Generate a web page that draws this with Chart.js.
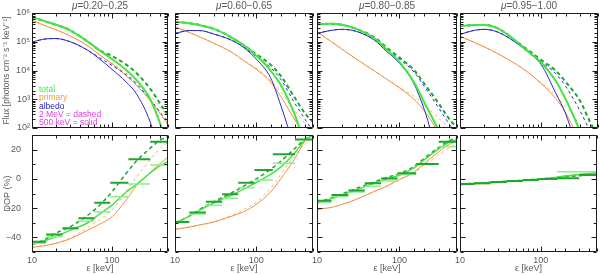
<!DOCTYPE html>
<html>
<head>
<meta charset="utf-8">
<script src="https://cdn.jsdelivr.net/npm/chart.js@4.4.1/dist/chart.umd.min.js"></script>
<style>
  html, body { margin: 0; padding: 0; background: #fff; overflow: hidden; }
  #wrap { position: relative; width: 600px; height: 275px; }
  #wrap canvas { position: absolute; left: 0; top: 0; }
</style>
</head>
<body>
<div id="wrap"></div>
<script>
// ── Data ─────────────────────────────────────────────────────────
const energy = [10, 15, 20, 30, 50, 70, 100, 150, 200, 300, 400, 500];
const muRanges = ['0.20−0.25', '0.60−0.65', '0.80−0.85', '0.95−1.00'];

// flux per panel (photons cm^-2 s^-1 keV^-1), one row per mu bin
const fluxTotal500 = [
  [7.2e5, 5.0e5, 3.9e5, 2.5e5, 1.0e5, 5.0e4, 2.5e4, 1.05e4, 4.8e3, 1.0e3, 1.4e2, 20],
  [5.0e5, 4.4e5, 3.8e5, 2.8e5, 1.4e5, 7.6e4, 3.3e4, 1.0e4, 3.2e3, 2.8e2, 25, 6],
  [4.1e5, 4.2e5, 3.9e5, 2.8e5, 1.3e5, 5.4e4, 2.0e4, 4.0e3, 7.9e2, 79, 10, 3],
  [3.5e5, 3.8e5, 3.8e5, 2.8e5, 1.0e5, 4.5e4, 1.9e4, 4.5e3, 1.0e3, 79, 10, 2]
];
const fluxTotal2M = [
  [7.2e5, 5.0e5, 3.9e5, 2.5e5, 1.0e5, 5.0e4, 3.2e4, 1.6e4, 8.3e3, 2.3e3, 6.9e2, 2.8e2],
  [5.0e5, 4.4e5, 3.8e5, 2.8e5, 1.4e5, 7.6e4, 3.7e4, 1.6e4, 6.6e3, 1.1e3, 3.2e2, 1.6e2],
  [4.1e5, 4.2e5, 3.9e5, 2.8e5, 1.4e5, 6.3e4, 2.8e4, 1.05e4, 3.5e3, 7.1e2, 2.1e2, 1.0e2],
  [3.5e5, 3.8e5, 3.8e5, 2.8e5, 1.0e5, 5.0e4, 2.3e4, 1.0e4, 4.0e3, 8.9e2, 1.6e2, 50]
];
const fluxPrimary500 = [
  [5.6e5, 3.5e5, 2.6e5, 1.6e5, 7.1e4, 3.5e4, 1.7e4, 6.6e3, 3.2e3, 8.9e2, 3.2e2, 1.3e2],
  [3.3e5, 2.1e5, 1.5e5, 8.9e4, 4.3e4, 2.2e4, 1.1e4, 4.0e3, 1.26e3, 1.9e2, 50, 16],
  [2.2e5, 1.0e5, 5.6e4, 2.5e4, 9.5e3, 5.0e3, 2.5e3, 1.0e3, 4.0e2, 63, 10, 3],
  [1.55e5, 9.5e4, 6.6e4, 3.7e4, 1.6e4, 8.3e3, 3.5e3, 1.07e3, 3.4e2, 32, 6, 2]
];
const fluxPrimary2M = [
  [5.6e5, 3.5e5, 2.6e5, 1.6e5, 7.1e4, 3.5e4, 1.8e4, 7.9e3, 4.0e3, 1.3e3, 5.2e2, 2.5e2],
  [3.3e5, 2.1e5, 1.5e5, 8.9e4, 4.3e4, 2.2e4, 1.2e4, 4.6e3, 1.8e3, 4.0e2, 1.4e2, 63],
  [2.2e5, 1.0e5, 5.6e4, 2.5e4, 9.5e3, 5.0e3, 2.6e3, 1.26e3, 6.3e2, 2.2e2, 1.0e2, 50],
  [1.55e5, 9.5e4, 6.6e4, 3.7e4, 1.6e4, 8.3e3, 3.7e3, 1.4e3, 5.6e2, 1.3e2, 40, 16]
];
const fluxAlbedo500 = [
  [9.8e4, 1.26e5, 1.29e5, 1.0e5, 5.0e4, 2.5e4, 1.1e4, 4.0e3, 1.6e3, 1.6e2, 10, 2],
  [1.95e5, 2.45e5, 2.45e5, 1.86e5, 1.12e5, 6.3e4, 2.5e4, 5.6e3, 6.3e2, 20, 3, 1],
  [1.95e5, 2.5e5, 2.7e5, 2.3e5, 1.12e5, 4.6e4, 1.8e4, 3.5e3, 4.5e2, 10, 2, 1],
  [1.8e5, 2.5e5, 2.7e5, 2.1e5, 8.9e4, 4.2e4, 1.6e4, 1.7e3, 3.1e2, 10, 2, 1]
];
const fluxAlbedo2M = [
  [9.8e4, 1.26e5, 1.29e5, 1.0e5, 5.0e4, 2.8e4, 1.5e4, 7.1e3, 3.5e3, 1.0e3, 3.5e2, 1.6e2],
  [1.95e5, 2.45e5, 2.45e5, 1.86e5, 1.12e5, 6.6e4, 3.0e4, 1.26e4, 5.0e3, 7.1e2, 2.0e2, 79],
  [1.95e5, 2.5e5, 2.7e5, 2.3e5, 1.17e5, 5.2e4, 2.5e4, 8.9e3, 2.8e3, 5.0e2, 1.4e2, 63],
  [1.8e5, 2.5e5, 2.7e5, 2.1e5, 8.9e4, 4.4e4, 2.0e4, 7.9e3, 2.8e3, 4.0e2, 79, 32]
];

// degree of polarisation (%)
const dopTotal500 = [
  [-45, -42, -39.5, -35, -30, -24, -18, -9, -4, 4, 9, 12],
  [-30.4, -25.5, -21.5, -16.5, -11, -7, -2.5, 3, 8, 18, 26.6, 30],
  [-16.7, -13.5, -11, -7.5, -2.8, 0, 2.5, 7.5, 13, 20.5, 25, 27],
  [-3.5, -3, -2.6, -2, -1.2, -0.6, 0, 1, 2, 3, 3.6, 4]
];
const dopTotal2M = [
  [-45, -41, -37, -32.7, -24.7, -18, -8.8, 3.8, 12, 21, 26.6, 29],
  [-30, -25.5, -21, -15.6, -9.5, -5, 0, 6.5, 12, 20.9, 27, 30],
  [-16, -13, -10.5, -6.5, -2, 1, 3.5, 8.5, 14, 21.5, 26, 28],
  [-3.5, -3, -2.6, -2, -1.2, -0.6, 0, 0.8, 1.5, 2.2, 2.6, 2.8]
];
const dopPrimary500 = [
  [-46.8, -45.5, -44, -41, -35, -31, -25.9, -14.4, -5, 4.5, 10.6, 15],
  [-34.5, -33, -31.5, -29.5, -25.5, -22.5, -17.5, -9, 0, 14, 26, 30],
  [-20.8, -19.5, -17.5, -14, -8.5, -5, -0.5, 4.5, 10.5, 18.5, 23.5, 26],
  [-4, -3.5, -3, -2.4, -1.5, -0.9, -0.2, 0.8, 1.8, 3, 3.8, 4.3]
];
const dopPrimary2M = [
  [-46.8, -45.5, -44, -40.5, -33, -28, -21.3, -8.8, 1, 13, 21, 25],
  [-34.5, -33, -31.5, -29.5, -25, -21, -16, -6.5, 3, 16, 24, 28],
  [-20.8, -19.5, -17.5, -14, -8.5, -5, -0.5, 4, 9.5, 16.5, 21, 24],
  [-4, -3.5, -3, -2.4, -1.5, -0.9, -0.2, 0.6, 1.4, 2.3, 3, 3.5]
];

// binned DOP (horizontal bars)
const binLo = [10, 15, 24, 38, 60, 95, 160, 300];
const binHi = [15, 24, 38, 60, 95, 160, 300, 500];
const binDop2M = [
  [-43, -38, -33.8, -27, -16.3, -2.6, 13.4, 25.4],
  [-29.5, -23, -15.6, -10.5, -2.6, 6.1, 16.8, 27],
  [-15, -11, -8, -3, 0.3, 3.8, 10.2, 25.4],
  [-3.5, -3, -2.2, -1.5, -0.8, 0, 0.4, 2.6]
];
const binDop500 = [
  [-44, -39.5, -34, -29, -22.4, -12.2, -3.5, 9.5],
  [-29.5, -24, -18, -13.3, -6, -0.8, 10.6, 27],
  [-16, -12, -9, -5, -1.5, 3, 10, 22],
  [-3.8, -3.2, -2.5, -1.8, -1, -0.3, 4.9, 4.9]
];

const legendLabels = ['total', 'primary', 'albedo', '2 MeV = dashed', '500 keV = solid'];
const legendColors = ['#44e844', '#f0a040', '#2424b8', '#e040e0', '#e040e0'];

// ── Layout ───────────────────────────────────────────────────────
const colLeft = [32, 175, 317, 460];
const colRight = [168, 313, 457, 598];
const rowTop = [13, 135];
const rowBottom = [128, 252];

const GREEN = '#44e444', DKGREEN = '#22a432', LTGREEN = '#8cee8c';
const ORANGE = '#f09040', LTORANGE = '#f6b47a', BLUE = '#2a2ac4';
const FONT = '"Liberation Sans", Arial, sans-serif';

Chart.defaults.font.family = FONT;
Chart.defaults.color = '#5a5a5a';

const SUP = { 2: '²', 3: '³', 4: '⁴', 5: '⁵', 6: '⁶' };
const isDecade = v => Math.abs(Math.log10(v) - Math.round(Math.log10(v))) < 1e-6;

const pts = vals => energy.map((e, i) => ({ x: e, y: vals[i] }));
const binPts = vals => vals.flatMap((v, i) => [{ x: binLo[i], y: v }, { x: binHi[i], y: v }, { x: binHi[i], y: null }]);

const curve = (data, color, width, dash, order) => ({
  data, borderColor: color, borderWidth: width, borderDash: dash || [],
  pointRadius: 0, fill: false, cubicInterpolationMode: 'monotone', order
});
const bars = (data, color, width, order) => ({
  data, borderColor: color, borderWidth: width, pointRadius: 0, fill: false, tension: 0, order
});

// frame with inward ticks on all four sides
const framePlugin = {
  id: 'frame',
  afterDatasetsDraw(chart) {
    const { ctx, chartArea: a, scales: { x, y } } = chart;
    const L = Math.round(a.left) + 0.5, R = Math.round(a.right) - 0.5;
    const T = Math.round(a.top) + 0.5, B = Math.round(a.bottom) - 0.5;
    ctx.save();
    ctx.strokeStyle = '#1c1c1c';
    ctx.lineWidth = 1;
    ctx.beginPath();
    ctx.rect(L, T, R - L, B - T);
    x.ticks.forEach(t => {
      const p = Math.round(x.getPixelForValue(t.value)) + 0.5;
      const len = isDecade(t.value) ? 5 : 3;
      ctx.moveTo(p, B); ctx.lineTo(p, B - len);
      ctx.moveTo(p, T); ctx.lineTo(p, T + len);
    });
    const logY = y.type === 'logarithmic';
    y.ticks.forEach(t => {
      const p = Math.round(y.getPixelForValue(t.value)) + 0.5;
      const major = logY ? isDecade(t.value) : t.value % 20 === 0;
      const len = major ? 5 : 3;
      ctx.moveTo(L, p); ctx.lineTo(L + len, p);
      ctx.moveTo(R, p); ctx.lineTo(R - len, p);
    });
    ctx.stroke();
    ctx.restore();
  }
};

// panel title (mu range) and the in-panel legend
const textPlugin = {
  id: 'panelText',
  afterDraw(chart, args, opts) {
    const { ctx, chartArea: a } = chart;
    ctx.save();
    ctx.textBaseline = 'middle';
    if (opts.mu) {
      const rest = '=' + opts.mu;
      ctx.font = 'italic 10px ' + FONT;
      const w1 = ctx.measureText('μ').width;
      ctx.font = '10px ' + FONT;
      const w2 = ctx.measureText(rest).width;
      const x0 = (a.left + a.right) / 2 - (w1 + w2) / 2;
      ctx.fillStyle = '#5a5a5a';
      ctx.textAlign = 'left';
      ctx.font = 'italic 10px ' + FONT;
      ctx.fillText('μ', x0, a.top - 7);
      ctx.font = '10px ' + FONT;
      ctx.fillText(rest, x0 + w1, a.top - 7);
    }
    if (opts.legend) {
      ctx.font = '8.5px ' + FONT;
      ctx.textAlign = 'left';
      legendLabels.forEach((s, i) => {
        ctx.fillStyle = legendColors[i];
        ctx.fillText(s, a.left + 7, 90 + i * 8.1);
      });
    }
    ctx.restore();
  }
};

const wrap = document.getElementById('wrap');

const makePanel = (col, row, datasets, yScale, extra) => {
  const cv = document.createElement('canvas');
  cv.width = 600; cv.height = 275;
  wrap.appendChild(cv);
  const first = col === 0;
  const lower = row === 1;
  yScale.afterFit = s => { s.width = first ? colLeft[0] : 0; };
  new Chart(cv, {
    type: 'line',
    data: { datasets },
    options: {
      responsive: false, animation: false, devicePixelRatio: 1, events: [],
      layout: { padding: {
        left: first ? 0 : colLeft[col], right: 600 - colRight[col],
        top: rowTop[row], bottom: lower ? 0 : 275 - rowBottom[row]
      } },
      scales: {
        x: {
          type: 'logarithmic', min: 10, max: 500,
          grid: { display: false, drawTicks: false }, border: { display: false },
          ticks: { display: lower, autoSkip: false, maxRotation: 0, padding: 3, font: { size: 9 },
            callback: v => (v === 10 || v === 100) ? String(v) : '' },
          title: { display: lower, text: 'ε [keV]', font: { size: 9 }, padding: { top: 0, bottom: 1 } },
          afterFit: s => { s.height = lower ? 275 - rowBottom[1] : 0; }
        },
        y: yScale
      },
      plugins: { legend: { display: false }, tooltip: { enabled: false }, panelText: extra }
    },
    plugins: [framePlugin, textPlugin]
  });
};

for (let c = 0; c < 4; c++) {
  const first = c === 0;
  makePanel(c, 0, [
    curve(pts(fluxTotal500[c]), GREEN, 2, null, 1),
    curve(pts(fluxTotal2M[c]), DKGREEN, 2, [4, 3], 2),
    curve(pts(fluxAlbedo500[c]), BLUE, 1, null, 3),
    curve(pts(fluxAlbedo2M[c]), BLUE, 1, [3, 3], 4),
    curve(pts(fluxPrimary500[c]), ORANGE, 1, null, 5),
    curve(pts(fluxPrimary2M[c]), LTORANGE, 1, [3, 3], 6)
  ], {
    type: 'logarithmic', min: 100, max: 1e6,
    grid: { display: false, drawTicks: false }, border: { display: false },
    ticks: { display: first, autoSkip: false, padding: 2, font: { size: 9 },
      callback: v => isDecade(v) ? '10' + SUP[Math.round(Math.log10(v))] : '' },
    title: { display: first, text: 'Flux [photons cm⁻² s⁻¹ keV⁻¹]', font: { size: 8.5 }, padding: { top: 2, bottom: 0 } }
  }, { mu: muRanges[c], legend: first });

  makePanel(c, 1, [
    bars(binPts(binDop500[c]), LTGREEN, 1.5, 2),
    bars(binPts(binDop2M[c]), DKGREEN, 2, 1),
    curve(pts(dopTotal500[c]), GREEN, 1.5, null, 3),
    curve(pts(dopTotal2M[c]), DKGREEN, 1.5, [4, 3], 4),
    curve(pts(dopPrimary500[c]), ORANGE, 1, null, 5),
    curve(pts(dopPrimary2M[c]), LTORANGE, 1, [3, 3], 6)
  ], {
    type: 'linear', min: -50, max: 30,
    grid: { display: false, drawTicks: false }, border: { display: false },
    ticks: { display: first, stepSize: 10, autoSkip: false, padding: 11, font: { size: 9 },
      callback: v => (v % 20 === 0 && v > -50 && v < 30) ? String(v).replace('-', '−') : '' },
    title: { display: first, text: 'DOP (%)', font: { size: 9 }, padding: { top: 2, bottom: 0 } }
  }, {});
}
</script>
</body>
</html>
